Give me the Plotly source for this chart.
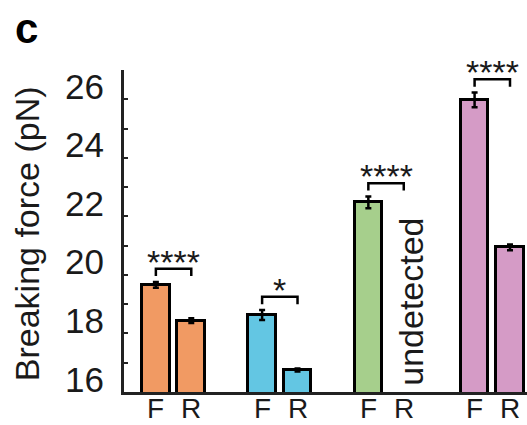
import plotly.graph_objects as go

# Breaking force of four constructs, forward (F) and reverse (R) pulls
groups = ["g1", "g2", "g3", "g4"]
bar_labels = ["F", "R"]
forward_force = [19.66, 18.63, 22.48, 25.98]
reverse_force = [18.44, 16.75, None, 20.94]
forward_err = [0.10, 0.17, 0.20, 0.25]
reverse_err = [0.08, 0.05, 0.0, 0.10]
significance = ["****", "*", "****", "****"]
group_colors = ["#F19A63", "#63C6E3", "#A6CF8C", "#D59BC6"]
y_ticks = [16, 18, 20, 22, 24, 26]

FONT = "Liberation Sans, Arial, sans-serif"
INK = "#1a1a1a"

fig = go.Figure()

xs, ys, errs, cols, texts = [], [], [], [], []
for g in range(len(groups)):
    xs += [3 * g, 3 * g + 1]
    ys += [forward_force[g], reverse_force[g]]
    errs += [forward_err[g], reverse_err[g]]
    cols += [group_colors[g], group_colors[g]]
    texts += bar_labels

fig.add_trace(go.Bar(
    x=xs, y=ys, width=0.78,
    marker=dict(color=cols, line=dict(color="black", width=3)),
    error_y=dict(type="data", array=errs, visible=True,
                 color="black", thickness=2.5, width=3),
    showlegend=False,
))

# significance brackets above each F/R pair
for g in range(len(groups)):
    tops = [forward_force[g] + forward_err[g]]
    if reverse_force[g] is not None:
        tops.append(reverse_force[g] + reverse_err[g])
    level = max(tops) + 0.45
    x0, x1 = 3 * g, 3 * g + 1
    fig.add_shape(type="path",
                  path=f"M {x0} {level - 0.25} L {x0} {level} L {x1} {level} L {x1} {level - 0.25}",
                  line=dict(color="black", width=2.5))
    fig.add_annotation(x=(x0 + x1) / 2, y=level, text=significance[g],
                       showarrow=False, yanchor="bottom", yshift=-14,
                       font=dict(family=FONT, size=34, color=INK))

# label for the missing reverse measurement
for g in range(len(groups)):
    if reverse_force[g] is None:
        fig.add_annotation(x=3 * g + 1, y=16, text="undetected", textangle=-90,
                           showarrow=False, yanchor="bottom", xshift=7, yshift=4,
                           font=dict(family=FONT, size=34, color=INK))

# x category labels under each bar
for x, t in zip(xs, texts):
    fig.add_annotation(x=x, y=16, text=t, showarrow=False,
                       xanchor="center", yanchor="middle", yshift=-16,
                       font=dict(family=FONT, size=28, color=INK))

# y tick labels
for v in y_ticks:
    fig.add_annotation(x=-0.045, xref="paper", y=v, text=str(v), showarrow=False,
                       xanchor="right", yanchor="middle", yshift=13,
                       font=dict(family=FONT, size=35, color=INK))

fig.add_annotation(x=-0.24, xref="paper", y=21.4, text="Breaking force (pN)",
                   textangle=-90, showarrow=False, xanchor="center", yanchor="middle",
                   font=dict(family=FONT, size=34, color=INK))

fig.add_annotation(x=-0.243, xref="paper", y=1.13, yref="paper", text="<b>c</b>",
                   showarrow=False, xanchor="center", yanchor="middle",
                   font=dict(family=FONT, size=42, color="black"))

fig.update_layout(
    width=527, height=425,
    margin=dict(l=124, r=0, t=70, b=33),
    paper_bgcolor="white", plot_bgcolor="white",
    bargap=0,
    xaxis=dict(range=[-0.9, 10.48], showticklabels=False,
               showline=True, linecolor="#222", linewidth=2.5, ticks="",
               showgrid=False, zeroline=False, automargin=False),
    yaxis=dict(range=[16, 27], tickmode="linear", tick0=16, dtick=1,
               showticklabels=False, ticks="inside", ticklen=4, tickwidth=2,
               tickcolor="#222", showline=True, linecolor="#222", linewidth=2.5,
               showgrid=False, zeroline=False, automargin=False),
)

fig.write_html("out.html")
